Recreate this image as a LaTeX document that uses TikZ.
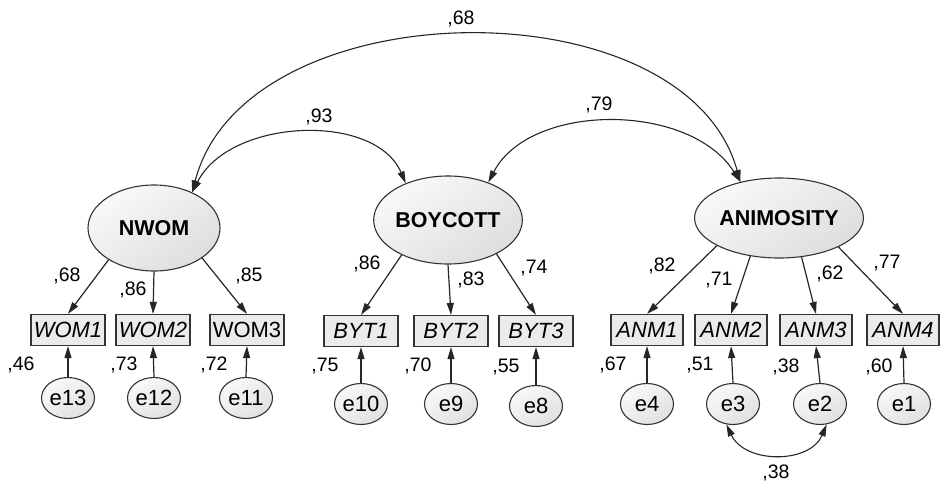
\documentclass[tikz,border=0pt]{standalone}
\usepackage{fontspec}
\setmainfont{Liberation Sans}
\usetikzlibrary{shapes.geometric,arrows.meta}
\begin{document}
\begin{tikzpicture}[x=1pt,y=-1pt,
 lat/.style={ellipse, draw=black!80, line width=1.1pt, top color=gray!5, bottom color=gray!26, shading angle=35, inner sep=0pt, font=\fontsize{21.5}{24}\selectfont\bfseries},
 obs/.style={rectangle, draw=black!80, line width=1.2pt, fill=gray!16, minimum width=74pt, minimum height=31pt, inner sep=0pt, font=\fontsize{22}{24}\selectfont\itshape},
 err/.style={ellipse, draw=black!80, line width=1.1pt, top color=gray!5, bottom color=gray!24, shading angle=35, minimum width=53pt, minimum height=41pt, inner sep=0pt, font=\fontsize{22}{24}\selectfont},
 coef/.style={inner sep=0pt, font=\fontsize{19.5}{22}\selectfont},
 arr/.style={draw=black!85, line width=1.2pt, -{Triangle[length=12pt,width=7pt]}},
 biarr/.style={draw=black!85, line width=1.1pt, {Triangle[length=12pt,width=7pt]}-{Triangle[length=12pt,width=7pt]}},
]
\useasboundingbox (0,0) rectangle (941,487);

% latent variables
\node[lat, minimum width=132pt, minimum height=86pt] (NWOM) at (154,228) {NWOM};
\node[lat, minimum width=130pt, minimum height=88pt] (BOY) at (448,220) {BOYCOTT};
\node[lat, minimum width=132pt, minimum height=80pt] (ANI) at (779,218) {ANIMOSITY};

% observed variables
\node[obs] (WOM1) at (68,330) {WOM1};
\node[obs] (WOM2) at (153,330) {WOM2};
\node[obs, font=\fontsize{22}{24}\selectfont\upshape] (WOM3) at (247,330) {WOM3};
\node[obs] (BYT1) at (361,331) {BYT1};
\node[obs] (BYT2) at (451,331) {BYT2};
\node[obs] (BYT3) at (536,331) {BYT3};
\node[obs, minimum width=72pt] (ANM1) at (647,330) {ANM1};
\node[obs, minimum width=72pt] (ANM2) at (731,330) {ANM2};
\node[obs, minimum width=72pt] (ANM3) at (816,330) {ANM3};
\node[obs, minimum width=72pt] (ANM4) at (903,330) {ANM4};

% errors
\node[err] (e13) at (68,398) {e13};
\node[err] (e12) at (154,398) {e12};
\node[err] (e11) at (246,398) {e11};
\node[err] (e10) at (361,404) {e10};
\node[err] (e9) at (451,404) {e9};
\node[err] (e8) at (536,406) {e8};
\node[err] (e4) at (647,404) {e4};
\node[err] (e3) at (733,404) {e3};
\node[err] (e2) at (820,404) {e2};
\node[err] (e1) at (904,404) {e1};

% loadings
\draw[arr] (NWOM.215) -- (WOM1.north);
\draw[arr] (NWOM.270) -- (WOM2.north);
\draw[arr] (NWOM.328) -- (WOM3.north);
\draw[arr] (BOY.217) -- (BYT1.north);
\draw[arr] (BOY.270) -- (BYT2.north);
\draw[arr] (BOY.325) -- (BYT3.north);
\draw[arr] (ANI.204) -- (ANM1.north);
\draw[arr] (ANI.233) -- (ANM2.north);
\draw[arr] (ANI.300) -- (ANM3.north);
\draw[arr] (ANI.334) -- (ANM4.north);

% error paths
\foreach \e/\o in {e13/WOM1,e12/WOM2,e11/WOM3,e10/BYT1,e9/BYT2,e8/BYT3,e4/ANM1,e3/ANM2,e2/ANM3,e1/ANM4}
  \draw[arr] (\e.north) -- (\o.south);

% covariances
\draw[biarr] (NWOM.43) .. controls (245,-12) and (685,-18) .. (ANI.137);
\draw[biarr] (NWOM.43) .. controls (230,118) and (375,112) .. (BOY.139);
\draw[biarr] (BOY.43) .. controls (530,102) and (690,102) .. (ANI.137);
\draw[biarr] (e3.252) .. controls (745,464) and (810,464) .. (e2.288);

% coefficient labels
\node[coef] (c1) at (461,19) {,68};
\node[coef] (c2) at (319,117) {,93};
\node[coef] (c3) at (599,105) {,79};
\node[coef] (c4) at (67,276) {,68};
\node[coef] (c5) at (133,290) {,86};
\node[coef] (c6) at (249,276) {,85};
\node[coef] (c7) at (21,365) {,46};
\node[coef] (c8) at (124,365) {,73};
\node[coef] (c9) at (214,365) {,72};
\node[coef] (c10) at (367,264) {,86};
\node[coef] (c11) at (471,280) {,83};
\node[coef] (c12) at (534,268) {,74};
\node[coef] (c13) at (325,366) {,75};
\node[coef] (c14) at (418,366) {,70};
\node[coef] (c15) at (506,367) {,55};
\node[coef] (c16) at (662,266) {,82};
\node[coef] (c17) at (719,280) {,71};
\node[coef] (c18) at (830,274) {,62};
\node[coef] (c19) at (887,263) {,77};
\node[coef] (c20) at (613,365) {,67};
\node[coef] (c21) at (700,365) {,51};
\node[coef] (c22) at (786,367) {,38};
\node[coef] (c23) at (879,367) {,60};
\node[coef] (c24) at (776,473) {,38};
\end{tikzpicture}
\end{document}
